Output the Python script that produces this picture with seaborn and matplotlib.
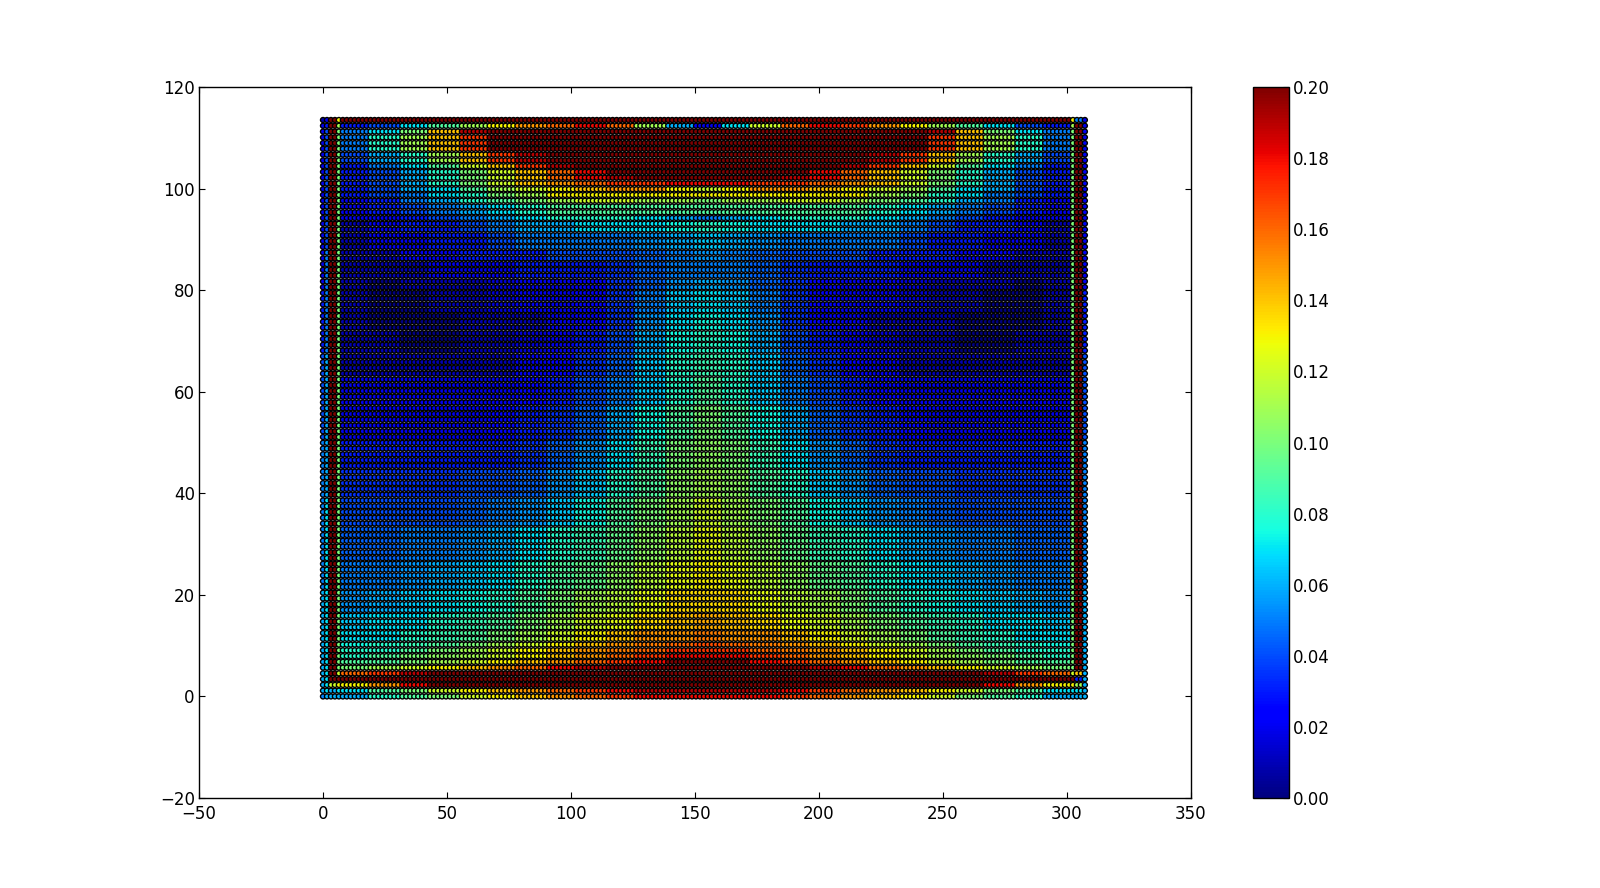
import numpy as np
import pandas as pd
import seaborn as sns
import matplotlib
matplotlib.use('Agg')
import matplotlib.pyplot as plt

# Values are hand estimates from the picture, in units of 0.01, on a coarse table.
# The real chart has far more dots than could be read one by one, so each dot takes
# the reading of the table cell it falls in (no smoothing between cells).
y_levels = [113.5, 112.4, 111.2, 109, 106.4, 104.6, 103.5, 102.5, 101.5, 100.5, 99.5,
            98.5, 97.5, 96, 94.5, 92.5, 90, 87, 84, 81, 78, 74, 70, 66, 60, 54, 48,
            42, 36, 30, 24, 18, 14, 11.5, 10.2, 9.1, 8, 6.8, 5.7, 4.54, 3.4, 2.27, 1.14, 0]
x_levels = [13, 25, 37, 49, 61, 72, 84, 96, 108, 120, 132, 144, 155,
            166, 178, 190, 202, 214, 226, 238, 249, 261, 273, 285, 297]

top_rows = [
    [20, 20, 20, 20, 20, 20, 20, 20, 20, 20, 20, 20, 20, 20, 20, 20, 20, 20, 20, 20, 20, 20, 20, 20, 20],
    [3, 4, 7, 9, 11, 13, 15, 16, 18, 16, 11, 6, 2, 7, 12, 16, 18, 17, 15, 13, 11, 9, 7, 4, 3],
    [5, 7, 10, 14, 19, 20, 20, 20, 20, 20, 20, 20, 20, 20, 20, 20, 20, 20, 20, 20, 19, 14, 10, 7, 5],
    [5, 8, 11, 14, 17, 20, 20, 20, 20, 20, 20, 20, 20, 20, 20, 20, 20, 20, 20, 20, 17, 14, 11, 8, 5],
    [4, 6, 8, 11, 14, 17, 19, 20, 20, 20, 20, 20, 20, 20, 20, 20, 20, 20, 19, 17, 14, 11, 8, 6, 4],
    [3, 5, 7, 9, 12, 14, 17, 19, 20, 20, 20, 20, 20, 20, 20, 20, 20, 19, 17, 14, 12, 9, 7, 5, 3],
    [3, 4, 6, 8, 10, 12, 14, 16, 18, 20, 20, 20, 20, 20, 20, 20, 18, 16, 14, 12, 10, 8, 6, 4, 3],
    [3, 4, 6, 8, 10, 12, 14, 16, 18, 19, 20, 20, 20, 20, 20, 19, 18, 16, 14, 12, 10, 8, 6, 4, 3],
    [3, 4, 6, 8, 10, 12, 14, 15, 16, 17, 17, 18, 18, 18, 17, 17, 16, 15, 14, 12, 10, 8, 6, 4, 3],
    [3, 5, 7, 8, 10, 11, 13, 14, 15, 15, 16, 16, 16, 16, 16, 15, 15, 14, 13, 11, 10, 8, 7, 5, 3],
    [3, 4, 6, 7, 9, 11, 12, 13, 14, 15, 15, 13, 12, 13, 15, 15, 14, 13, 12, 11, 9, 7, 6, 4, 3],
    [3, 4, 5, 7, 8, 10, 11, 13, 13, 13, 13, 13, 13, 13, 13, 13, 13, 13, 11, 10, 8, 7, 5, 4, 3],
    [2, 3, 5, 6, 8, 9, 10, 11, 12, 12, 11, 11, 10, 11, 11, 12, 12, 11, 10, 9, 8, 6, 5, 3, 2],
    [2, 3, 4, 5, 6, 7, 8, 9, 9, 9, 9, 9, 9, 9, 9, 9, 9, 9, 8, 7, 6, 5, 4, 3, 2],
    [2, 2, 3, 4, 5, 6, 7, 8, 8, 8, 7, 6, 5, 6, 7, 8, 8, 8, 7, 6, 5, 4, 3, 2, 2],
]
middle_rows = [
    [1, 2, 3, 3, 4, 5, 6, 6, 7, 7, 7, 7.5, 8, 7.5, 7, 7, 7, 6, 6, 5, 4, 3, 3, 2, 1],
    [1, 2, 2, 3, 3, 4, 5, 5, 5, 5, 5.5, 6, 6.5, 6, 5.5, 5, 5, 5, 5, 4, 3, 3, 2, 2, 1],
    [1, 1, 2, 2, 3, 3, 3, 4, 4, 4, 4.5, 5, 5.5, 5, 4.5, 4, 4, 4, 3, 3, 3, 2, 2, 1, 1],
    [1, 1, 1, 2, 2, 2, 3, 3, 3, 3.5, 4.5, 5, 5, 5, 4.5, 3.5, 3, 3, 3, 2, 2, 2, 1, 1, 1],
    [1, 0, 1, 1, 1, 1.5, 2, 2, 2.5, 3.5, 4.5, 5.5, 6, 5.5, 4.5, 3.5, 2.5, 2, 2, 1.5, 1, 1, 1, 0, 1],
    [1, 0, 0, 1, 1, 1.5, 2, 2, 2.5, 3.5, 5, 6.5, 7, 6.5, 5, 3.5, 2.5, 2, 2, 1.5, 1, 1, 0, 0, 1],
    [1, 0, 0, 0, 1, 1, 1, 2, 2.5, 3.5, 5.5, 7, 7.5, 7, 5.5, 3.5, 2.5, 2, 1, 1, 1, 0, 0, 0, 1],
    [1, 1, 0, 0, 1, 1, 1.5, 2, 3, 4, 6, 7.5, 8, 7.5, 6, 4, 3, 2, 1.5, 1, 1, 0, 0, 1, 1],
    [1, 1, 1, 1, 1, 1, 2, 2.5, 3.5, 4.5, 6.5, 8, 8.5, 8, 6.5, 4.5, 3.5, 2.5, 2, 1, 1, 1, 1, 1, 1],
    [2, 2, 2, 2, 2, 2, 2.5, 3, 4, 5, 6.5, 8, 9, 8, 6.5, 5, 4, 3, 2.5, 2, 2, 2, 2, 2, 2],
    [2, 2, 2, 2, 2, 2.5, 3, 3.5, 4.5, 6, 7.5, 9, 10, 9, 7.5, 6, 4.5, 3.5, 3, 2.5, 2, 2, 2, 2, 2],
    [3, 3, 3, 3, 3, 3, 3.5, 4.5, 5.5, 7, 8.5, 10, 10.5, 10, 8.5, 7, 5.5, 4.5, 3.5, 3, 3, 3, 3, 3, 3],
    [3.5, 3.5, 3.5, 3.5, 4, 4, 4.5, 5.5, 6.5, 8, 9, 10.5, 11, 10.5, 9, 8, 6.5, 5.5, 4.5, 4, 4, 3.5, 3.5, 3.5, 3.5],
    [4, 4, 4, 4, 4.5, 5, 5.5, 6.5, 7.5, 9, 10, 11, 12, 11, 10, 9, 7.5, 6.5, 5.5, 5, 4.5, 4, 4, 4, 4],
    [4.5, 4.5, 5, 5, 5.5, 6, 7, 8, 8.5, 9.5, 10.5, 11.5, 12.5, 11.5, 10.5, 9.5, 8.5, 8, 7, 6, 5.5, 5, 5, 4.5, 4.5],
]
bottom_rows = [
    [5, 5, 5.5, 6, 6.5, 7, 8, 9, 9.5, 10.5, 11.5, 12.5, 13, 12.5, 11.5, 10.5, 9.5, 9, 8, 7, 6.5, 6, 5.5, 5, 5],
    [5.5, 6, 6.5, 7, 7.5, 8, 9, 10, 11, 11.5, 12.5, 13.5, 13.5, 13.5, 12.5, 11.5, 11, 10, 9, 8, 7.5, 7, 6.5, 6, 5.5],
    [6.5, 7, 7, 8, 8.5, 9, 10, 11, 12, 12.5, 13.5, 14, 14.5, 14, 13.5, 12.5, 12, 11, 10, 9, 8.5, 8, 7, 7, 6.5],
    [7, 7, 8, 8.5, 9, 10, 11, 12, 13, 14, 15, 15, 15.5, 15, 15, 14, 13, 12, 11, 10, 9, 8.5, 8, 7, 7],
    [7.5, 8, 8.5, 9, 10, 11, 12, 13, 14, 15, 15.5, 16, 16.5, 16, 15.5, 15, 14, 13, 12, 11, 10, 9, 8.5, 8, 7.5],
    [8, 8, 9, 10, 11, 12, 13, 14, 15, 15.5, 16, 17, 17, 17, 16, 15.5, 15, 14, 13, 12, 11, 10, 9, 8, 8],
    [8, 9, 10, 10.5, 11, 12, 13, 14, 15, 16, 17, 18, 18, 18, 17, 16, 15, 14, 13, 12, 11, 10.5, 10, 9, 8],
    [9, 9, 10, 11, 12, 13, 14, 15, 16, 17, 18, 20, 20, 20, 18, 17, 16, 15, 14, 13, 12, 11, 10, 9, 9],
    [10, 11, 12, 13, 14, 15, 16, 18, 19, 20, 20, 20, 20, 20, 20, 20, 19, 18, 16, 15, 14, 13, 12, 11, 10],
    [16, 17, 19, 20, 20, 20, 20, 20, 20, 20, 20, 20, 20, 20, 20, 20, 20, 20, 20, 20, 20, 20, 19, 17, 16],
    [20, 20, 20, 20, 20, 20, 20, 20, 20, 20, 20, 20, 20, 20, 20, 20, 20, 20, 20, 20, 20, 20, 20, 20, 20],
    [13, 15, 18, 20, 20, 20, 20, 20, 20, 20, 20, 20, 20, 20, 20, 20, 20, 20, 20, 20, 20, 20, 18, 15, 13],
    [7, 9, 10, 12, 13, 14, 15, 16, 17, 18, 19, 19, 19, 19, 19, 18, 17, 16, 15, 14, 13, 12, 10, 9, 7],
    [6, 8, 9, 10, 12, 13, 14, 15, 16, 17, 18, 18, 18, 18, 18, 17, 16, 15, 14, 13, 12, 10, 9, 8, 6],
]

# side columns, one value per y level
outer_left = [1, 2, 2, 2, 2, 2, 2, 2, 2, 2, 2, 2, 2, 2, 2, 2, 2, 2, 2, 2, 3, 3, 3, 4, 4, 4,
              5, 5, 5, 5, 5, 6, 6, 6, 6, 6, 6, 6, 6, 6, 6, 6, 6, 5]
inner_left = [2, 3, 4, 4, 4, 4, 4, 4, 4, 4, 4, 4, 4, 4, 4, 4, 4, 5, 5, 5, 5, 5, 5, 6, 6, 6,
              6, 6, 7, 7, 7, 7, 7, 7, 7, 7, 7, 7, 7, 7, 7, 7, 7, 6]
left_wall = [20, 20, 20, 20, 20, 20, 20, 20, 20, 20, 20, 20, 20, 20, 20, 20, 20, 20, 20, 20, 20, 20,
             20, 20, 20, 20, 20, 20, 20, 20, 20, 20, 20, 20, 20, 20, 20, 20, 20, 20, 20, 12, 6, 6]
green_col = [13, 11, 10, 10, 10, 10, 10, 10, 10, 10, 10, 10, 10, 10, 10, 10, 10, 10, 10, 10, 10, 10,
             10, 10, 10, 10, 10, 10, 10, 10, 10, 10, 10, 10, 10, 10, 10, 10, 10, 12, 20, 13, 7, 6]
right_wall = [5, 20, 20, 20, 20, 20, 20, 20, 20, 20, 20, 20, 20, 20, 20, 20, 20, 20, 20, 20, 20, 20,
              20, 20, 20, 20, 20, 20, 20, 20, 20, 20, 20, 20, 20, 20, 20, 20, 20, 14, 3, 11, 7, 6]
outer_right = [2, 2, 2, 2, 2, 2, 2, 2, 2, 2, 2, 2, 2, 2, 2, 2, 2, 2, 2, 2, 3, 3, 3, 4, 4, 4,
               5, 5, 5, 5, 5, 6, 6, 6, 6, 6, 6, 6, 6, 6, 6, 6, 6, 6]

bar_ticks = [0.00, 0.02, 0.04, 0.06, 0.08, 0.10, 0.12, 0.14, 0.16, 0.18, 0.20]

table = np.array(top_rows + middle_rows + bottom_rows) / 100
levels_y = np.array(y_levels)
levels_x = np.array(x_levels)

xs = np.arange(0, 308, 1.6)
ys = np.arange(0, 114, 1.135)
rows = []
for y in ys:
    for x in xs:
        r = np.abs(levels_y - y).argmin()
        if x < 1:
            v = outer_left[r] / 100
        elif x < 3:
            v = inner_left[r] / 100
        elif x < 5.5:
            v = left_wall[r] / 100
        elif x < 7.5:
            v = green_col[r] / 100
        elif x >= 307:
            v = outer_right[r] / 100
        elif x >= 303.5:
            v = right_wall[r] / 100
        elif x >= 302:
            v = green_col[r] / 100
        else:
            v = table[r, np.abs(levels_x - x).argmin()]
        rows.append((x, y, v))
df = pd.DataFrame(rows, columns=['x', 'y', 'v'])

sns.set_style('ticks', {'xtick.direction': 'in', 'ytick.direction': 'in',
                        'xtick.top': True, 'ytick.right': True,
                        'axes.edgecolor': 'black', 'xtick.color': 'black',
                        'ytick.color': 'black', 'text.color': 'black'})
plt.rcParams['font.family'] = ['DejaVu Sans']
plt.rcParams['axes.linewidth'] = 1.0

jet = matplotlib.colormaps['jet']

fig = plt.figure(figsize=(16, 8.88), dpi=100)
ax = fig.add_axes([199 / 1600, 1 - 798 / 888, 992 / 1600, 711 / 888])
sns.scatterplot(data=df, x='x', y='y', hue='v', palette=jet, hue_norm=(0, 0.2),
                s=13, edgecolor='black', linewidth=1, legend=False, ax=ax, zorder=3)
ax.set_xlim(-50, 350)
ax.set_ylim(-20, 120)
ax.set_xlabel('')
ax.set_ylabel('')
ax.tick_params(axis='x', labelsize=12, length=4, width=0.8, pad=5)
ax.tick_params(axis='y', labelsize=12, length=4, width=0.8, pad=3)

cax = fig.add_axes([1253 / 1600, 1 - 798 / 888, 36 / 1600, 711 / 888])
sm = plt.cm.ScalarMappable(norm=plt.Normalize(0, 0.2), cmap=jet)
cbar = fig.colorbar(sm, cax=cax, ticks=bar_ticks, format='%.2f')
cbar.ax.tick_params(labelsize=12, length=4, width=0.8, direction='in', pad=3, right=True)
cbar.outline.set_linewidth(1.0)

fig.savefig('out.png', dpi=100)
